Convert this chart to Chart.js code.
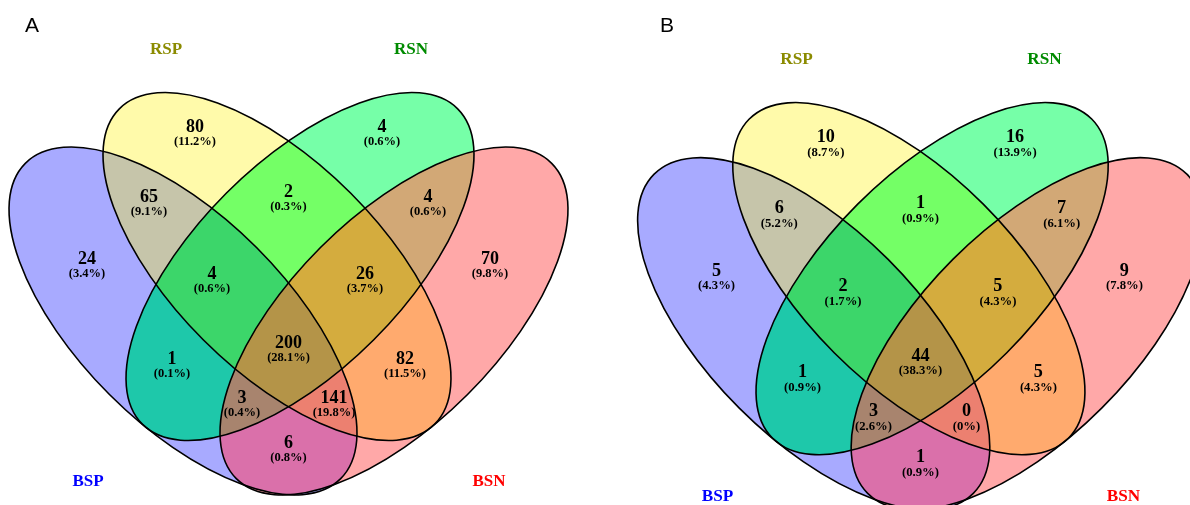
<!DOCTYPE html>
<html>
<head>
<meta charset="utf-8">
<script src="https://cdn.jsdelivr.net/npm/chart.js@4.4.0/dist/chart.umd.min.js"></script>
<style>
  html, body { margin: 0; padding: 0; background: #fff; }
  #wrap { position: relative; width: 1190px; height: 505px; overflow: hidden; }
  canvas { position: absolute; top: 0; }
  #chartA { left: 0; }
  #chartB { left: 595px; }
</style>
</head>
<body>
<div id="wrap">
  <canvas id="chartA" width="595" height="505"></canvas>
  <canvas id="chartB" width="595" height="505"></canvas>
</div>
<script>
// sets, in drawing order
const sets = ['BSP', 'RSP', 'RSN', 'BSN'];
const setColors = ['#0000FF', '#8B8B00', '#008B00', '#FF0000'];

// the 15 regions of the diagram
const regions = [
  'BSP', 'RSP', 'RSN', 'BSN',
  'BSP&RSP', 'RSP&RSN', 'RSN&BSN',
  'BSP&RSP&RSN', 'RSP&RSN&BSN',
  'BSP&RSN', 'RSP&BSN',
  'BSP&RSP&RSN&BSN',
  'BSP&RSN&BSN', 'BSP&RSP&BSN',
  'BSP&BSN'
];
// blended fill of every region
const regionColors = [
  '#A8AAFF', '#FFFAAA', '#76FFA8', '#FFA8A8',
  '#C6C5AA', '#74FF66', '#D2A876',
  '#3CD66A', '#D4AC3E',
  '#1EC8AA', '#FFAA6E',
  '#B49448',
  '#A8846E', '#EC8070',
  '#DA70AA'
];

// panel A
const countsA = [24, 80, 4, 70, 65, 2, 4, 4, 26, 1, 82, 200, 3, 141, 6];
const pctA = ['3.4%', '11.2%', '0.6%', '9.8%', '9.1%', '0.3%', '0.6%', '0.6%', '3.7%', '0.1%', '11.5%', '28.1%', '0.4%', '19.8%', '0.8%'];

// panel B
const countsB = [5, 10, 16, 9, 6, 1, 7, 2, 5, 1, 5, 44, 3, 0, 1];
const pctB = ['4.3%', '8.7%', '13.9%', '7.8%', '5.2%', '0.9%', '6.1%', '1.7%', '4.3%', '0.9%', '4.3%', '38.3%', '2.6%', '0%', '0.9%'];

// layout of the 4-set diagram (diagram units, y grows downward)
const ellipseA = 223, ellipseB = 104;
const ellipses = [
  { cx: 183, cy: 321, rot: 45 },
  { cx: 277, cy: 266.5, rot: 45 },
  { cx: 300, cy: 266.5, rot: -45 },
  { cx: 394, cy: 321, rot: -45 }
];
const regionPos = [
  [87, 259], [195, 127], [382, 127], [490, 259],
  [149, 197], [288.5, 192], [428, 197],
  [212, 274], [365, 274],
  [172, 359], [405, 359],
  [288.5, 343],
  [242, 398], [334, 398],
  [288.5, 443]
];
const titlePos = [[88, 482], [166, 50], [411, 50], [489, 482]];

const SERIF = '"Liberation Serif", "Times New Roman", serif';

const vennPlugin = {
  id: 'venn',
  beforeDatasetsDraw(chart) {
    const { ctx, scales: { x, y }, width, height } = chart;
    const kx = x.getPixelForValue(1) - x.getPixelForValue(0);
    const ky = y.getPixelForValue(1) - y.getPixelForValue(0);
    const path = (e, withFrame) => {
      const p = new Path2D();
      if (withFrame) p.rect(-10, -10, width + 20, height + 20);
      p.ellipse(x.getPixelForValue(e.cx), y.getPixelForValue(e.cy),
        ellipseA * kx, ellipseB * ky, e.rot * Math.PI / 180, 0, Math.PI * 2);
      return p;
    };
    // fill each region: inside its sets, outside the others
    regions.forEach((r, i) => {
      const members = r.split('&');
      ctx.save();
      sets.forEach((s, j) => {
        if (members.includes(s)) ctx.clip(path(ellipses[j], false));
        else ctx.clip(path(ellipses[j], true), 'evenodd');
      });
      ctx.fillStyle = regionColors[i];
      ctx.fillRect(0, 0, width, height);
      ctx.restore();
    });
    ctx.save();
    ctx.strokeStyle = '#000';
    ctx.lineWidth = 1.6;
    ellipses.forEach((e) => ctx.stroke(path(e, false)));
    ctx.restore();
  },
  afterDatasetsDraw(chart) {
    const { ctx } = chart;
    const k = chart.scales.x.getPixelForValue(1) - chart.scales.x.getPixelForValue(0);
    ctx.save();
    ctx.textAlign = 'center';
    ctx.textBaseline = 'middle';
    // region counts
    const ds = chart.data.datasets[0];
    chart.getDatasetMeta(0).data.forEach((pt, i) => {
      const d = ds.data[i];
      ctx.fillStyle = '#000';
      ctx.font = 'bold ' + (18 * k).toFixed(1) + 'px ' + SERIF;
      ctx.fillText(String(d.count), pt.x, pt.y);
      ctx.font = 'bold ' + (12.5 * k).toFixed(1) + 'px ' + SERIF;
      ctx.fillText('(' + d.pct + ')', pt.x, pt.y + 15 * k);
    });
    // set names
    const ts = chart.data.datasets[1];
    chart.getDatasetMeta(1).data.forEach((pt, i) => {
      ctx.fillStyle = setColors[i];
      ctx.font = 'bold ' + (17 * k).toFixed(1) + 'px ' + SERIF;
      ctx.fillText(ts.data[i].name, pt.x, pt.y);
    });
    // panel letter
    ctx.fillStyle = '#000';
    ctx.font = '21px "Liberation Sans", Arial, sans-serif';
    ctx.textAlign = 'left';
    ctx.fillText(chart.options.plugins.venn.letter, chart.options.plugins.venn.letterX, 26);
    ctx.restore();
  }
};

function makeVenn(id, counts, pcts, letter, letterX, xr, yr) {
  const regionData = regions.map((r, i) => ({
    x: regionPos[i][0], y: regionPos[i][1], count: counts[i], pct: pcts[i]
  }));
  const titleData = sets.map((s, i) => ({ x: titlePos[i][0], y: titlePos[i][1], name: s }));
  return new Chart(document.getElementById(id), {
    type: 'scatter',
    data: {
      datasets: [
        { label: 'regions', data: regionData, pointRadius: 0 },
        { label: 'sets', data: titleData, pointRadius: 0 }
      ]
    },
    options: {
      responsive: false,
      animation: false,
      events: [],
      layout: { padding: 0 },
      scales: {
        x: { type: 'linear', display: false, min: xr[0], max: xr[1] },
        y: { type: 'linear', display: false, reverse: true, min: yr[0], max: yr[1] }
      },
      plugins: {
        legend: { display: false },
        tooltip: { enabled: false },
        venn: { letter: letter, letterX: letterX }
      }
    },
    plugins: [vennPlugin]
  });
}

makeVenn('chartA', countsA, pctA, 'A', 25, [0, 595], [0, 505]);
makeVenn('chartB', countsB, pctB, 'B', 65, [-33.1, 554.8], [-8.8, 490.2]);
</script>
</body>
</html>
